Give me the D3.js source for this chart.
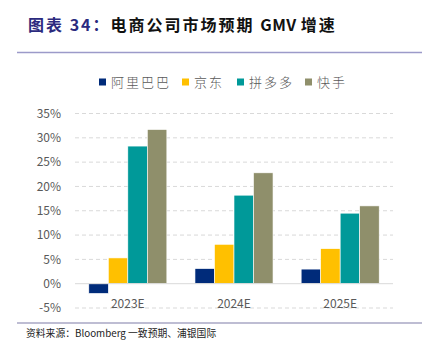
<!doctype html>
<html>
<head>
<meta charset="utf-8">
<script src="https://d3js.org/d3.v7.min.js"></script>
<style>
  body { margin: 0; background: #fff; }
  svg text { font-family: "Noto Sans CJK SC", "Noto Sans", sans-serif; }
</style>
</head>
<body>
<svg id="chart" width="433" height="353"></svg>
<script>
    const years = ["2023E", "2024E", "2025E"];
    const companies = ["阿里巴巴", "京东", "拼多多", "快手"];
    const colors = ["#002B7A", "#FFC000", "#009999", "#8F8F6B"];
    const alibaba = [-2.0, 3.1, 3.0];
    const jd = [5.3, 8.1, 7.2];
    const pdd = [28.3, 18.2, 14.5];
    const kuaishou = [31.7, 22.8, 16.0];
    const yTicks = [-5, 0, 5, 10, 15, 20, 25, 30, 35];

    const seriesList = [alibaba, jd, pdd, kuaishou];

    const svg = d3.select('#chart');
    const plotLeft = 75, plotRight = 393;

    const x = d3.scaleBand().domain(years).range([plotLeft, plotRight]).paddingInner(0.265).paddingOuter(0.13);
    const xs = d3.scaleBand().domain(companies).range([0, x.bandwidth()]);
    const y = d3.scaleLinear().domain([-5, 35]).range([308, 113.5]);

    // title
    const title = svg.append('text')
        .attr('x', 28).attr('y', 31)
        .attr('font-size', 16).attr('font-weight', 'bold');
    title.append('tspan').attr('fill', '#2B2A7E').attr('letter-spacing', 2).text('图表 34：');
    title.append('tspan').attr('fill', '#111').attr('letter-spacing', 2).text('电商公司市场预期 ');
    title.append('tspan').attr('fill', '#111').attr('letter-spacing', 0.5).text('GMV ');
    title.append('tspan').attr('fill', '#111').attr('letter-spacing', 2).text('增速');

    svg.append('line')
        .attr('x1', 17).attr('x2', 422).attr('y1', 52.5).attr('y2', 52.5)
        .attr('stroke', '#9C9AC9').attr('stroke-width', 1.5);

    // legend
    const legendX = [99, 182, 237, 305];
    const legend = svg.append('g');
    companies.forEach((c, i) => {
        legend.append('rect')
            .attr('x', legendX[i]).attr('y', 78.5)
            .attr('width', 7).attr('height', 7)
            .attr('fill', colors[i]);
        legend.append('text')
            .attr('x', legendX[i] + 12).attr('y', 87)
            .attr('font-size', 13).attr('fill', '#595959')
            .attr('font-weight', 300)
            .attr('letter-spacing', 2)
            .text(c);
    });

    // grid
    svg.append('g').selectAll('line')
        .data(yTicks.filter(d => d !== 0))
        .join('line')
        .attr('x1', plotLeft).attr('x2', plotRight)
        .attr('y1', d => y(d)).attr('y2', d => y(d))
        .attr('stroke', '#D9D9D9').attr('stroke-dasharray', '4,3');

    // y axis labels
    const yAxis = d3.axisLeft(y).tickValues(yTicks).tickFormat(d => d + '%').tickSize(0).tickPadding(0);
    const ya = svg.append('g').attr('transform', 'translate(61,0)').call(yAxis);
    ya.select('.domain').remove();
    ya.selectAll('text').attr('font-size', 12).attr('fill', '#595959')
        .attr('font-family', '"Open Sans", "Noto Sans", sans-serif');

    // bars
    const groups = svg.append('g').selectAll('g')
        .data(years)
        .join('g')
        .attr('transform', d => `translate(${x(d)},0)`);
    groups.selectAll('rect')
        .data((d, i) => companies.map((c, k) => ({c: c, v: seriesList[k][i], k: k})))
        .join('rect')
        .attr('x', d => xs(d.c))
        .attr('width', xs.bandwidth())
        .attr('y', d => y(Math.max(0, d.v)))
        .attr('height', d => Math.abs(y(d.v) - y(0)))
        .attr('fill', d => colors[d.k])
        .attr('stroke', '#ffffff').attr('stroke-width', 0.6);

    // zero line
    svg.append('line')
        .attr('x1', plotLeft).attr('x2', plotRight)
        .attr('y1', y(0)).attr('y2', y(0))
        .attr('stroke', '#D9D9D9').attr('stroke-width', 1);

    // x labels
    svg.append('g').selectAll('text')
        .data(years)
        .join('text')
        .attr('x', d => x(d) + x.bandwidth() / 2)
        .attr('y', 307.5)
        .attr('text-anchor', 'middle')
        .attr('font-size', 12).attr('fill', '#595959')
        .attr('font-family', '"Open Sans", "Noto Sans", sans-serif')
        .text(d => d);

    svg.append('line')
        .attr('x1', 17).attr('x2', 422).attr('y1', 323).attr('y2', 323)
        .attr('stroke', '#7F7CA8').attr('stroke-width', 1.2);

    svg.append('text')
        .attr('x', 26).attr('y', 337)
        .attr('font-size', 9.8).attr('fill', '#222')
        .text('资料来源：Bloomberg 一致预期、浦银国际');
</script>
</body>
</html>
